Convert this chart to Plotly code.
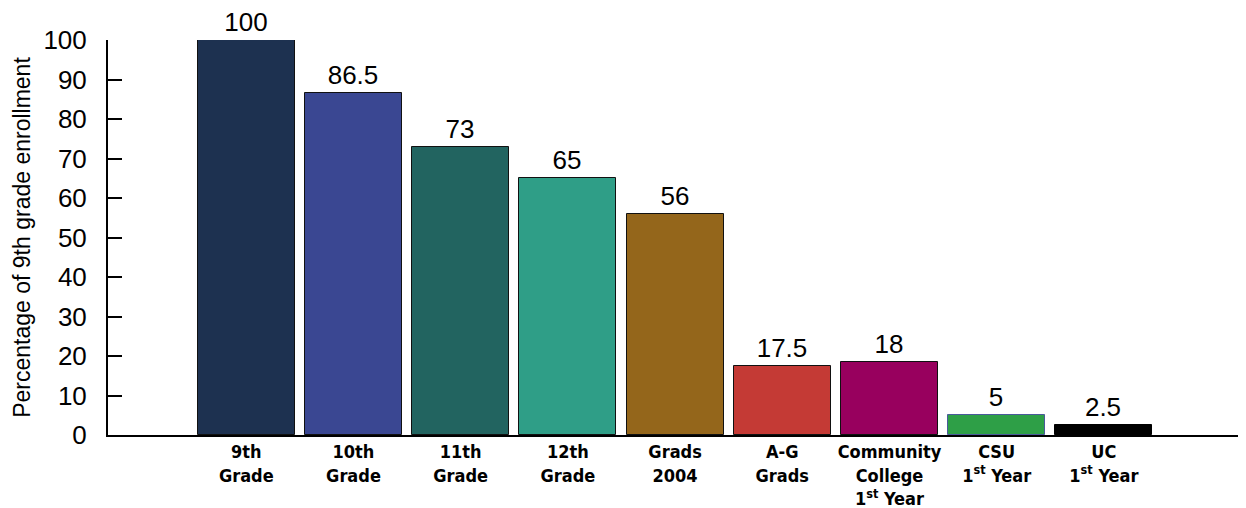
import plotly.graph_objects as go

categories = ["9th<br>Grade", "10th<br>Grade", "11th<br>Grade", "12th<br>Grade",
              "Grads<br>2004", "A-G<br>Grads", "Community<br>College<br>1<sup>st</sup> Year",
              "CSU<br>1<sup>st</sup> Year", "UC<br>1<sup>st</sup> Year"]
values = [100, 86.5, 73, 65, 56, 17.5, 18.6, 5, 2.5]
value_labels = ["100", "86.5", "73", "65", "56", "17.5", "18", "5", "2.5"]
colors = ["#1d3150", "#3a4792", "#226460", "#2f9e87", "#94661b",
          "#c43a35", "#98005e", "#2e9f47", "#000000"]
outline = ["#111111"] * 7 + ["#4a5a9a", "#000000"]
y_ticks = [0, 10, 20, 30, 40, 50, 60, 70, 80, 90, 100]

x_idx = list(range(len(categories)))

fig = go.Figure(go.Bar(
    x=x_idx, y=values, width=0.905,
    marker=dict(color=colors, line=dict(color=outline, width=1)),
    text=value_labels, textposition="outside", cliponaxis=False,
    textfont=dict(family="Liberation Sans, Arial", size=26, color="#000000"),
))

# page body adds an 8px offset, so the figure is sized to compensate
fig.update_layout(
    width=1238, height=500,
    margin=dict(l=100, r=6, t=32, b=73),
    plot_bgcolor="white", paper_bgcolor="white",
    showlegend=False,
    bargap=0,
    uniformtext=dict(mode=False),
)
fig.update_yaxes(
    range=[0, 100], tickvals=y_ticks, ticks="inside", ticklen=14, tickwidth=1.5,
    tickcolor="#000000", showline=True, linecolor="#000000", linewidth=2,
    showgrid=False, zeroline=False, ticklabelstandoff=14, automargin=False,
    tickfont=dict(family="Liberation Sans, Arial", size=26, color="#000000"),
    title=dict(text="Percentage of 9th grade enrollment", standoff=6,
               font=dict(family="Liberation Sans, Arial", size=23, color="#000000")),
)
fig.update_xaxes(
    range=[-1.29, 9.27], tickvals=x_idx, ticktext=categories,
    showline=True, linecolor="#000000", linewidth=1.5, showgrid=False, zeroline=False,
    ticks="", tickangle=0, automargin=False,
    tickfont=dict(family="DejaVu Sans Condensed, Liberation Sans Narrow, Arial Narrow",
                  size=18, color="#000000", weight="bold"),
)
fig.add_shape(type="line", xref="paper", yref="paper", x0=1, x1=1, y0=0, y1=0.018,
              line=dict(color="#000000", width=1.5))

fig.write_html("out.html")
